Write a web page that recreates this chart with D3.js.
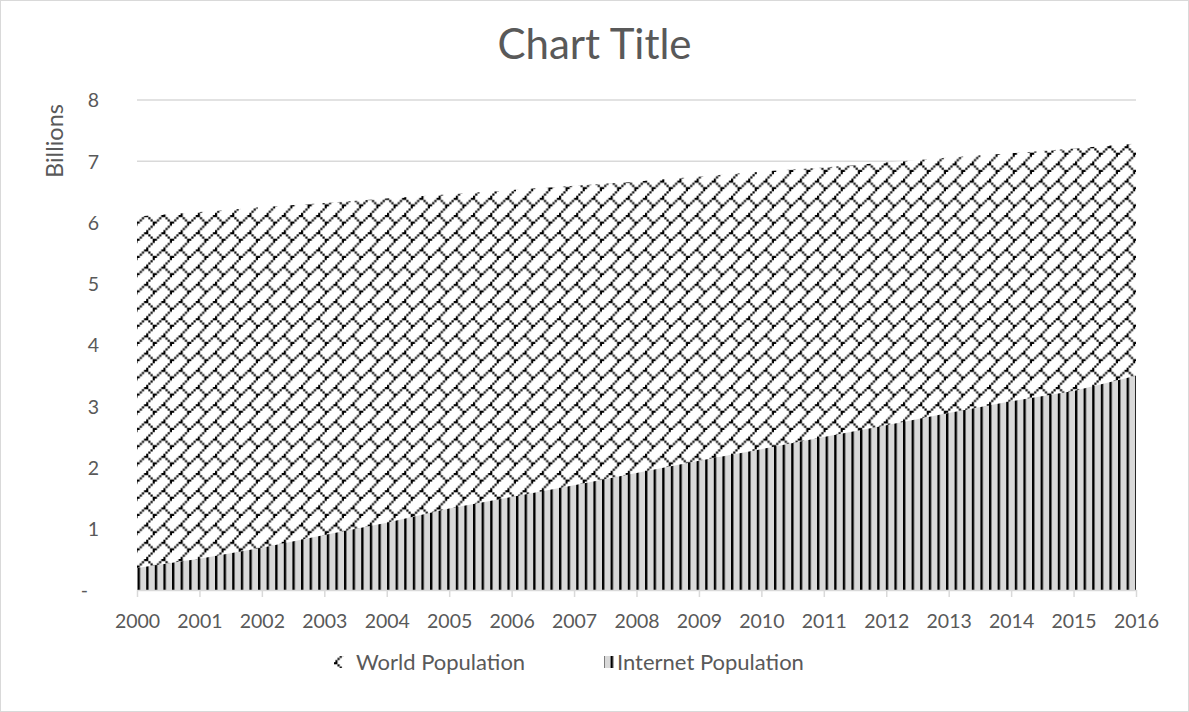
<!DOCTYPE html>
<html>
<head>
<meta charset="utf-8">
<script src="https://cdn.jsdelivr.net/npm/d3@7"></script>
<style>
  body { margin: 0; background: #fff; }
  svg text { font-family: Lato, "Open Sans", sans-serif; fill: #595959; }
</style>
</head>
<body>
<svg id="chart" width="1189" height="712"></svg>
<script>
// ---- data (billions of people) ----
const years = [2000, 2001, 2002, 2003, 2004, 2005, 2006, 2007, 2008,
               2009, 2010, 2011, 2012, 2013, 2014, 2015, 2016];
const worldPopulation = [6.10, 6.17, 6.25, 6.32, 6.39, 6.46, 6.53, 6.60, 6.67,
                         6.75, 6.83, 6.90, 6.98, 7.06, 7.13, 7.21, 7.29];
const internetPopulation = [0.36, 0.51, 0.69, 0.90, 1.10, 1.33, 1.52, 1.71, 1.91,
                            2.11, 2.30, 2.50, 2.69, 2.89, 3.08, 3.25, 3.50];
const yTicks = [0, 1, 2, 3, 4, 5, 6, 7, 8];
const seriesNames = ["World Population", "Internet Population"];
const chartTitle = "Chart Title";
const unitLabel = "Billions";

const W = 1189, H = 712;
const plot = { left: 137, right: 1136, top: 100, bottom: 590 };
const gridColor = "#d9d9d9";

const svg = d3.select("#chart");

// outer chart border
svg.append("rect")
  .attr("x", 0.5).attr("y", 0.5)
  .attr("width", W - 1).attr("height", H - 1)
  .attr("fill", "#fff").attr("stroke", gridColor).attr("stroke-width", 1);

// ---- fill patterns drawn as pixel bitmaps ----
const px = 2.15;
const defs = svg.append("defs");

// diagonal brick: full "/" diagonal plus half "\" segment
const brickBits = [];
for (let r = 0; r < 8; r++) brickBits.push([7 - r, r]);
for (let r = 4; r < 8; r++) brickBits.push([r, r]);
const brick = defs.append("pattern")
  .attr("id", "diagBrick")
  .attr("patternUnits", "userSpaceOnUse")
  .attr("width", 8 * px).attr("height", 8 * px);
brick.append("rect").attr("width", 8 * px).attr("height", 8 * px).attr("fill", "#fff");
brick.selectAll("rect.bit").data(brickBits).join("rect")
  .attr("class", "bit")
  .attr("x", d => d[0] * px).attr("y", d => d[1] * px)
  .attr("width", px).attr("height", px)
  .attr("fill", "#000");

// light vertical: one dark column in every four, on light grey
const vert = defs.append("pattern")
  .attr("id", "ltVert")
  .attr("patternUnits", "userSpaceOnUse")
  .attr("width", 4 * px).attr("height", 4 * px);
vert.append("rect").attr("width", 4 * px).attr("height", 4 * px).attr("fill", "#d9d9d9");
vert.append("rect").attr("x", 0).attr("width", px * 1.1).attr("height", 4 * px).attr("fill", "#000");

// ---- scales ----
const x = d3.scalePoint().domain(years).range([plot.left, plot.right]);
const y = d3.scaleLinear().domain([0, 8]).range([plot.bottom, plot.top]);

// gridlines
svg.append("g").selectAll("line")
  .data(yTicks.filter(t => t > 0))
  .join("line")
  .attr("x1", plot.left).attr("x2", plot.right)
  .attr("y1", d => y(d)).attr("y2", d => y(d))
  .attr("stroke", gridColor).attr("stroke-width", 1.5);

// ---- areas (world behind, internet in front) ----
const area = vals => d3.area()
  .x((d, i) => x(years[i]))
  .y0(y(0))
  .y1(d => y(d))(vals);

svg.append("path").attr("d", area(worldPopulation)).attr("fill", "url(#diagBrick)");
svg.append("path").attr("d", area(internetPopulation)).attr("fill", "url(#ltVert)");

// ---- x axis ----
const xAxis = svg.append("g")
  .attr("transform", `translate(0,${plot.bottom})`)
  .call(d3.axisBottom(x).tickSize(7).tickSizeOuter(0));
xAxis.select(".domain").attr("stroke", gridColor).attr("stroke-width", 1.5);
xAxis.selectAll(".tick line").attr("stroke", gridColor).attr("stroke-width", 1.5);
xAxis.selectAll(".tick text")
  .attr("y", 38).attr("dy", 0)
  .style("font-size", "19.5px")
  .style("font-family", "Lato, sans-serif")
  .attr("fill", "#595959");

// ---- y axis labels ----
const yAxis = svg.append("g")
  .attr("transform", `translate(${plot.left},0)`)
  .call(d3.axisLeft(y).tickValues(yTicks).tickSize(0)
    .tickFormat(d => d === 0 ? "-" : d3.format("d")(d)));
yAxis.select(".domain").remove();
yAxis.selectAll(".tick text")
  .attr("x", d => d === 0 ? -49 : -38)
  .attr("dy", "0.35em")
  .style("font-size", "19.5px")
  .style("font-family", "Lato, sans-serif")
  .attr("fill", "#595959");

// axis unit label
svg.append("text")
  .attr("transform", "translate(63,141) rotate(-90)")
  .attr("text-anchor", "middle")
  .style("font-size", "23.5px")
  .text(unitLabel);

// title
svg.append("text")
  .attr("x", W / 2).attr("y", 59)
  .attr("text-anchor", "middle")
  .style("font-size", "42px")
  .text(chartTitle);

// ---- legend ----
const legendItems = [
  { name: seriesNames[0], fill: "url(#diagBrick)", mx: 334, tx: 356 },
  { name: seriesNames[1], fill: "url(#ltVert)", mx: 604, tx: 617 }
];
const lg = svg.append("g").selectAll("g").data(legendItems).join("g");
lg.append("rect")
  .attr("x", d => d.mx).attr("y", 656)
  .attr("width", 10).attr("height", 12)
  .attr("fill", d => d.fill);
lg.append("text")
  .attr("x", d => d.tx).attr("y", 670)
  .style("font-size", "22px")
  .text(d => d.name);
</script>
</body>
</html>
